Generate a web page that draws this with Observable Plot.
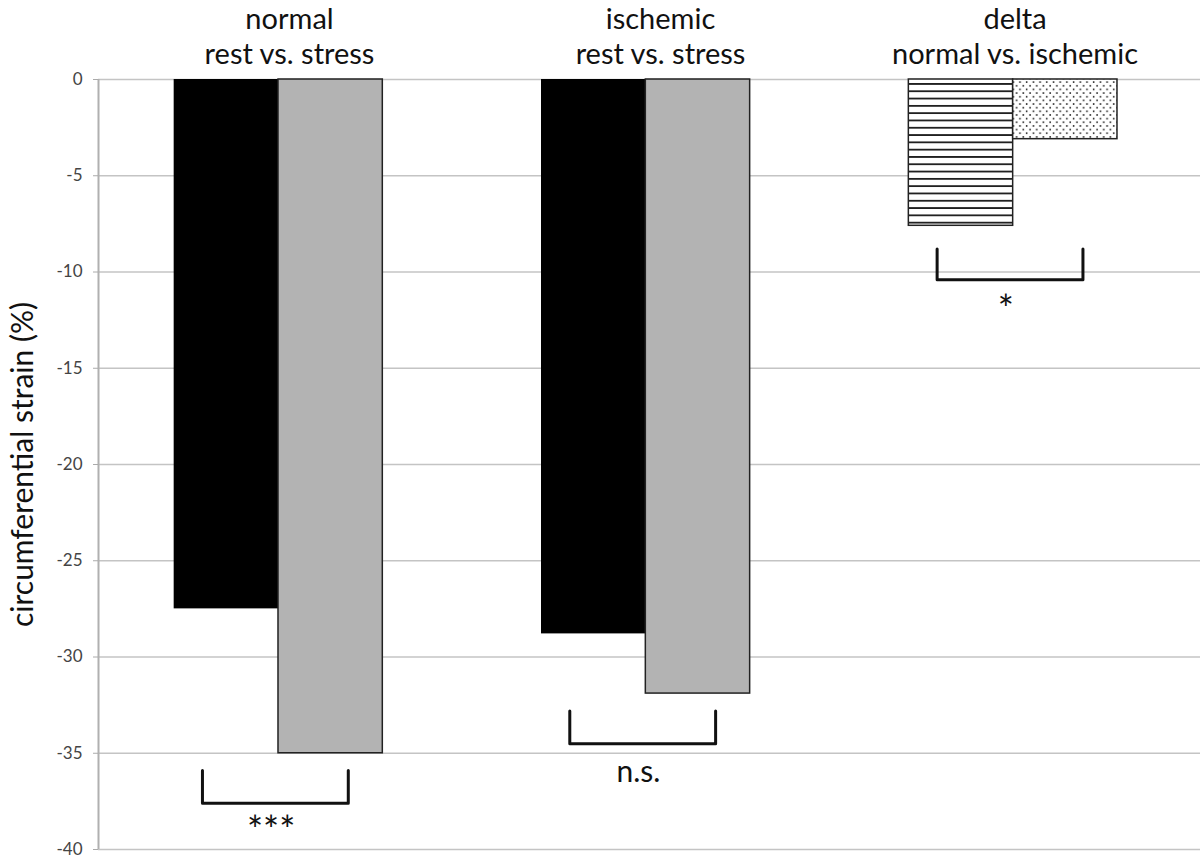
<!DOCTYPE html>
<html><head><meta charset="utf-8">
<script src="https://cdn.jsdelivr.net/npm/d3@7"></script>
<script src="https://cdn.jsdelivr.net/npm/@observablehq/plot@0.6"></script>
<style>body{margin:0;background:#fff}</style>
</head><body><div id="chart"></div>
<script>
// ---- data ----
const groups = ["normal", "ischemic", "delta"];
const titleLine1 = ["normal", "ischemic", "delta"];
const titleLine2 = ["rest vs. stress", "rest vs. stress", "normal vs. ischemic"];
const firstValues = [-27.5, -28.8, -7.6];   // rest / delta normal
const secondValues = [-35.0, -31.9, -3.1];  // stress / delta ischemic
const bracketTop = [-35.9, -32.8, -8.8];
const bracketBottom = [-37.6, -34.5, -10.4];
const sigLabels = ["***", "n.s.", "*"];
const sigY = [-39.1, -36.0, -12.0];
const yTicks = [0, -5, -10, -15, -20, -25, -30, -35, -40];
const yLabel = "circumferential strain (%)";

// ---- styles / layout ----
const firstFill = ["#000", "#000", "url(#hatch)"];
const secondFill = ["#b3b3b3", "#b3b3b3", "url(#dots)"];
const firstStroke = ["none", "none", "#222"];
const secondStroke = ["#222", "#222", "#222"];
const sigSize = [38, 30, 38];
const titleShift = [0.02, 0.03, -0.005];
const barW = 0.284, offset = 0.49;

const bars = [];
groups.forEach((g, i) => {
  const c = i + offset;
  bars.push({group: g, x1: c - barW, x2: c, value: firstValues[i], fill: firstFill[i], stroke: firstStroke[i]});
  bars.push({group: g, x1: c, x2: c + barW, value: secondValues[i], fill: secondFill[i], stroke: secondStroke[i]});
});
const bracketPts = [];
groups.forEach((g, i) => {
  const c = i + offset, l = c - 0.207, r = c + 0.19;
  bracketPts.push({group: g, x: l, y: bracketTop[i]}, {group: g, x: l, y: bracketBottom[i]},
                  {group: g, x: r, y: bracketBottom[i]}, {group: g, x: r, y: bracketTop[i]});
});
const sig = groups.map((g, i) => ({x: i + offset - 0.02, y: sigY[i], t: sigLabels[i], size: sigSize[i]}));
const titles = groups.map((g, i) => ({x: i + 0.5 + titleShift[i], t1: titleLine1[i], t2: titleLine2[i]}));

const chart = Plot.plot({
  width: 1200, height: 863,
  marginLeft: 98, marginRight: 0, marginTop: 79, marginBottom: 14,
  x: {domain: [0, 3], axis: null},
  y: {domain: [-40, 0]},
  color: {type: "identity"},
  style: {fontFamily: "Lato, sans-serif", background: "#fff", color: "#000", overflow: "visible"},
  marks: [
    Plot.ruleY(yTicks, {stroke: "#c4c4c4", strokeWidth: 1.5}),
    Plot.ruleX([0], {stroke: "#b0b0b0", strokeWidth: 2}),
    Plot.axisY({ticks: yTicks, tickFormat: d => String(d), tickSize: 5, tickPadding: 11,
                stroke: "#aaa", fill: "#444", fontSize: 17, label: null}),
    Plot.rectY(bars, {x1: "x1", x2: "x2", y1: 0, y2: "value", fill: "fill", stroke: "stroke", strokeWidth: 1.5}),
    Plot.line(bracketPts, {x: "x", y: "y", z: "group", stroke: "#111", strokeWidth: 3, strokeLinejoin: "round"}),
    Plot.text(sig, {x: "x", y: "y", text: "t", fontSize: d => d.size, fill: "#111"}),
    Plot.text(titles, {x: "x", text: "t1", frameAnchor: "top", lineAnchor: "bottom", dy: -51, fontSize: 29, fill: "#111"}),
    Plot.text(titles, {x: "x", text: "t2", frameAnchor: "top", lineAnchor: "bottom", dy: -16, fontSize: 29, fill: "#111"}),
    Plot.text([{t: yLabel, y: -20}], {y: "y", text: "t", frameAnchor: "left", textAnchor: "middle",
               dx: -75, rotate: -90, fontSize: 30, fill: "#111"})
  ]
});

const svg = d3.select(chart);
const defs = svg.insert("defs", ":first-child");
const hatch = defs.append("pattern").attr("id", "hatch").attr("patternUnits", "userSpaceOnUse")
  .attr("width", 10).attr("height", 7.3);
hatch.append("rect").attr("width", 10).attr("height", 7.3).attr("fill", "#fff");
hatch.append("rect").attr("y", 2.8).attr("width", 10).attr("height", 1.7).attr("fill", "#111");
const dots = defs.append("pattern").attr("id", "dots").attr("patternUnits", "userSpaceOnUse")
  .attr("width", 6.7).attr("height", 7.3);
dots.append("rect").attr("width", 6.7).attr("height", 7.3).attr("fill", "#fff");
dots.append("circle").attr("cx", 1.6).attr("cy", 1.8).attr("r", 0.9).attr("fill", "#222");
dots.append("circle").attr("cx", 4.95).attr("cy", 5.45).attr("r", 0.9).attr("fill", "#222");

document.getElementById("chart").appendChild(chart);
</script>
</body></html>
